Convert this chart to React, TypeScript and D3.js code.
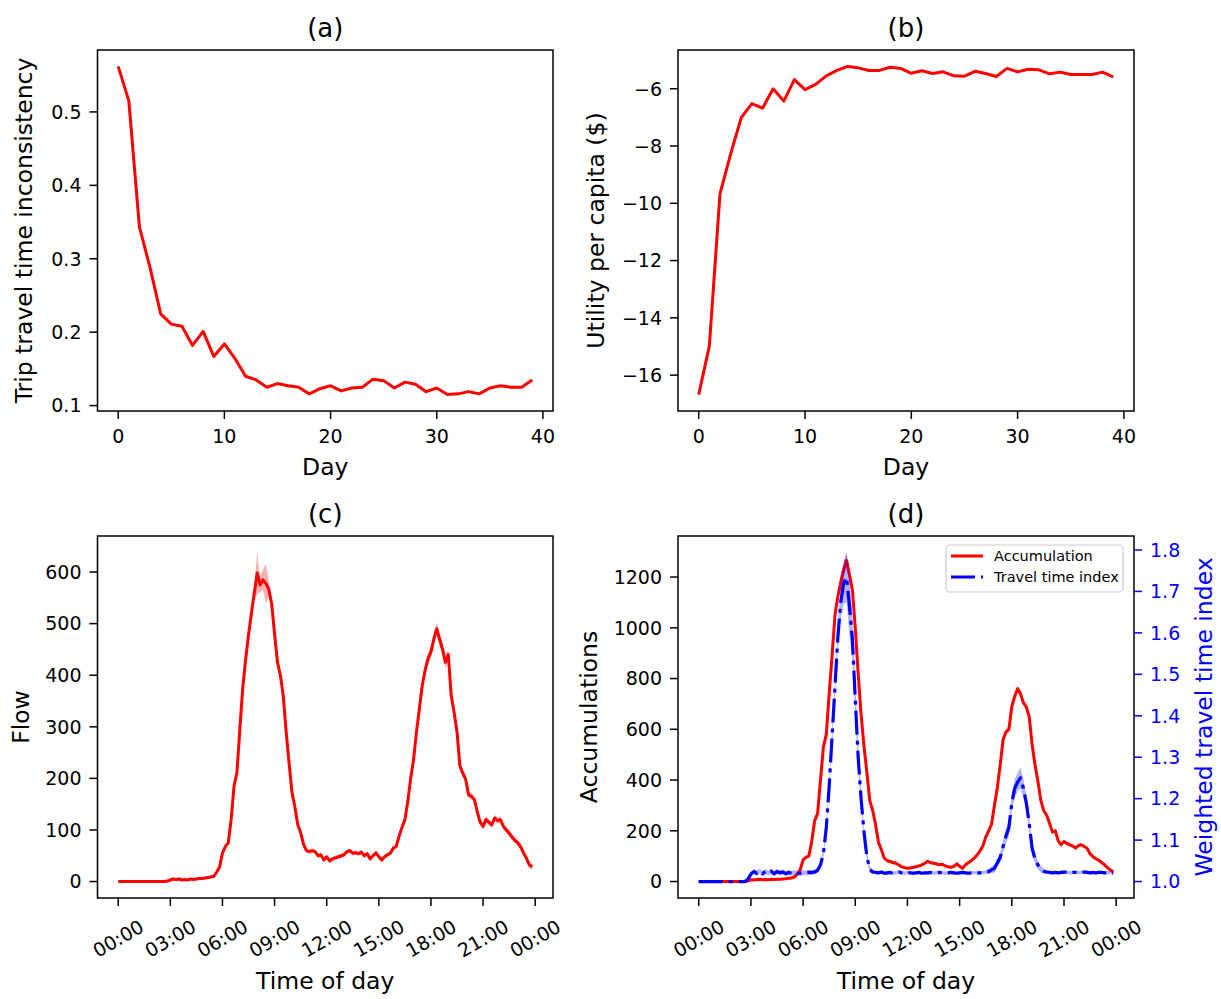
import React from "react";
import * as d3 from "d3";

// ---------------- DATA ----------------
const tripInconsistency = [
  0.562, 0.515, 0.343, 0.288, 0.225, 0.211, 0.208, 0.182, 0.201, 0.167,
  0.184, 0.164, 0.14, 0.135, 0.125, 0.13, 0.127, 0.125, 0.116, 0.123,
  0.127, 0.12, 0.124, 0.125, 0.136, 0.134, 0.124, 0.132, 0.129, 0.119,
  0.124, 0.115, 0.116, 0.119, 0.116, 0.124, 0.127, 0.125, 0.125, 0.135,
];
const utilityPerCapita = [
  -16.68, -14.98, -9.67, -8.28, -7.01, -6.52, -6.68, -6.0, -6.43, -5.68,
  -6.03, -5.85, -5.55, -5.36, -5.22, -5.27, -5.36, -5.36, -5.25, -5.29,
  -5.46, -5.37, -5.47, -5.41, -5.55, -5.56, -5.39, -5.47, -5.57, -5.29,
  -5.41, -5.32, -5.34, -5.48, -5.42, -5.5, -5.5, -5.5, -5.42, -5.59,
];
const dayTicks = [0, 10, 20, 30, 40];
const inconsistencyTicks = [0.1, 0.2, 0.3, 0.4, 0.5];
const utilityTicks = [-16, -14, -12, -10, -8, -6];

// 10-minute samples over one day (one row = one hour)
const STEP_MINUTES = 10;
const flow = [
  0, 0, 0, 0, 0, 0,
  0, 0, 0, 0, 0, 0,
  0, 0, 0, 0, 0, 1,
  3, 5, 4, 5, 3, 4,
  3, 5, 4, 5, 6, 6,
  7, 8, 9, 10, 18, 28,
  55, 68, 75, 120, 185, 211,
  295, 375, 430, 478, 520, 560,
  598, 575, 585, 578, 567, 538,
  480, 425, 400, 360, 290, 230,
  173, 145, 110, 95, 72, 60,
  58, 60, 58, 50, 52, 42,
  48, 40, 44, 46, 48, 50,
  52, 58, 60, 55, 56, 54,
  57, 50, 54, 44, 50, 56,
  48, 42, 48, 52, 55, 65,
  68, 88, 105, 120, 155, 200,
  237, 290, 335, 380, 410, 432,
  445, 470, 490, 470, 450, 425,
  440, 360, 328, 290, 224, 210,
  198, 168, 165, 159, 135, 115,
  107, 120, 115, 110, 123, 118,
  120, 107, 100, 94, 86, 80,
  75, 67, 55, 45, 32, 29,
];
const flowSpread = [
  0, 0, 0, 0, 0, 0,
  0, 0, 0, 0, 0, 0,
  0, 0, 0, 0, 0, 2,
  3, 3, 3, 3, 3, 3,
  3, 3, 3, 3, 3, 3,
  3, 3, 3, 3, 3, 3,
  3, 3, 4, 5, 6, 6,
  6, 8, 8, 10, 12, 15,
  40, 15, 20, 38, 15, 12,
  10, 8, 8, 6, 6, 5,
  4, 4, 4, 4, 4, 4,
  4, 4, 4, 4, 4, 4,
  4, 4, 4, 4, 4, 4,
  4, 4, 4, 4, 4, 4,
  4, 4, 4, 4, 4, 4,
  4, 4, 4, 4, 4, 4,
  5, 5, 6, 6, 8, 8,
  8, 10, 10, 12, 12, 12,
  12, 12, 12, 12, 12, 14,
  10, 8, 8, 8, 8, 8,
  6, 6, 6, 6, 6, 6,
  6, 6, 6, 6, 6, 6,
  6, 6, 6, 6, 6, 6,
  6, 6, 6, 6, 6, 6,
];
const accumulation = [
  0, 0, 0, 0, 0, 0,
  0, 0, 0, 0, 0, 0,
  0, 0, 0, 0, 0, 3,
  7, 6, 8, 9, 7, 8,
  7, 9, 8, 9, 9, 10,
  11, 13, 14, 18, 30, 46,
  86, 95, 100, 160, 240, 268,
  400, 530, 580, 740, 890, 1050,
  1125, 1180, 1230, 1265, 1210, 1150,
  1000, 820, 660, 535, 430, 320,
  280, 225, 155, 125, 92, 82,
  79, 75, 72, 65, 58, 55,
  52, 53, 56, 58, 62, 66,
  72, 80, 74, 72, 70, 66,
  68, 62, 58, 56, 60, 70,
  60, 52, 66, 74, 82, 92,
  105, 120, 140, 175, 200, 225,
  300, 370, 460, 560, 590, 600,
  690, 730, 760, 740, 705, 688,
  650, 540, 460, 395, 320, 280,
  262, 230, 195, 200, 160, 145,
  158, 150, 145, 140, 132, 142,
  145, 138, 130, 110, 98, 90,
  84, 75, 66, 55, 45, 39,
];
const accumulationSpread = [
  0, 0, 0, 0, 0, 0,
  0, 0, 0, 0, 0, 0,
  0, 0, 0, 0, 0, 3,
  5, 5, 5, 5, 5, 5,
  5, 5, 5, 5, 5, 5,
  5, 5, 5, 5, 5, 5,
  5, 6, 6, 8, 10, 10,
  10, 12, 12, 14, 15, 18,
  20, 25, 30, 32, 25, 20,
  15, 12, 12, 10, 10, 8,
  6, 6, 6, 6, 6, 6,
  6, 6, 6, 6, 6, 6,
  6, 6, 6, 6, 6, 6,
  6, 6, 6, 6, 6, 6,
  6, 6, 6, 6, 6, 6,
  6, 6, 6, 6, 6, 6,
  8, 8, 8, 10, 10, 10,
  12, 12, 12, 12, 12, 12,
  14, 14, 14, 14, 12, 12,
  10, 10, 8, 8, 8, 6,
  6, 6, 6, 6, 6, 6,
  6, 6, 6, 6, 6, 6,
  6, 6, 6, 6, 6, 6,
  6, 6, 6, 6, 6, 6,
];
const travelTimeIndex = [
  1, 1, 1, 1, 1, 1,
  1, 1, 1, 1, 1, 1,
  1, 1, 1, 1, 1, 1.006,
  1.018, 1.024, 1.02, 1.025, 1.019, 1.024,
  1.02, 1.025, 1.019, 1.024, 1.021, 1.023,
  1.019, 1.022, 1.02, 1.021, 1.02, 1.02,
  1.021, 1.021, 1.022, 1.022, 1.023, 1.027,
  1.04, 1.068, 1.13, 1.23, 1.35, 1.47,
  1.59, 1.675, 1.72, 1.734, 1.665, 1.585,
  1.44, 1.3, 1.2, 1.12, 1.06, 1.03,
  1.023, 1.022, 1.021, 1.023, 1.02, 1.021,
  1.022, 1.02, 1.021, 1.023, 1.021, 1.02,
  1.022, 1.021, 1.02, 1.021, 1.022, 1.02,
  1.021, 1.021, 1.022, 1.02, 1.021, 1.022,
  1.021, 1.02, 1.021, 1.022, 1.021, 1.02,
  1.021, 1.022, 1.021, 1.02, 1.021, 1.022,
  1.021, 1.021, 1.022, 1.023, 1.024, 1.028,
  1.032, 1.045, 1.058, 1.085, 1.11, 1.13,
  1.19, 1.225, 1.24, 1.25, 1.225, 1.19,
  1.14, 1.08, 1.055, 1.04, 1.03, 1.025,
  1.023, 1.022, 1.021, 1.022, 1.021, 1.022,
  1.023, 1.022, 1.021, 1.022, 1.022, 1.021,
  1.022, 1.023, 1.022, 1.021, 1.022, 1.021,
  1.022, 1.022, 1.021, 1.022, 1.021, 1.021,
];
const travelTimeIndexSpread = [
  0, 0, 0, 0, 0, 0,
  0, 0, 0, 0, 0, 0,
  0, 0, 0, 0, 0, 0.004,
  0.006, 0.006, 0.006, 0.006, 0.006, 0.006,
  0.006, 0.006, 0.006, 0.006, 0.006, 0.006,
  0.006, 0.006, 0.006, 0.006, 0.006, 0.006,
  0.006, 0.006, 0.006, 0.006, 0.006, 0.006,
  0.008, 0.01, 0.012, 0.015, 0.018, 0.02,
  0.03, 0.04, 0.05, 0.06, 0.07, 0.05,
  0.04, 0.03, 0.02, 0.012, 0.01, 0.008,
  0.004, 0.004, 0.004, 0.004, 0.004, 0.004,
  0.004, 0.004, 0.004, 0.004, 0.004, 0.004,
  0.004, 0.004, 0.004, 0.004, 0.004, 0.004,
  0.004, 0.004, 0.004, 0.004, 0.004, 0.004,
  0.004, 0.004, 0.004, 0.004, 0.004, 0.004,
  0.004, 0.004, 0.004, 0.004, 0.004, 0.004,
  0.004, 0.004, 0.004, 0.005, 0.006, 0.008,
  0.01, 0.01, 0.012, 0.015, 0.018, 0.02,
  0.02, 0.022, 0.022, 0.025, 0.022, 0.02,
  0.018, 0.015, 0.012, 0.01, 0.008, 0.006,
  0.004, 0.004, 0.004, 0.004, 0.004, 0.004,
  0.004, 0.004, 0.004, 0.004, 0.004, 0.004,
  0.004, 0.004, 0.004, 0.004, 0.004, 0.004,
  0.004, 0.004, 0.004, 0.004, 0.004, 0.004,
];
const timeTickHours = [0, 3, 6, 9, 12, 15, 18, 21, 24];
const timeTickLabels = ["00:00", "03:00", "06:00", "09:00", "12:00", "15:00", "18:00", "21:00", "00:00"];
const flowTicks = [0, 100, 200, 300, 400, 500, 600];
const accumulationTicks = [0, 200, 400, 600, 800, 1000, 1200];
const ttiTicks = [1.0, 1.1, 1.2, 1.3, 1.4, 1.5, 1.6, 1.7, 1.8];

// ---------------- LAYOUT / STYLE ----------------
const W = 1221;
const H = 999;
const FONT = "'DejaVu Sans', sans-serif";
const TICK_FS = 19;
const LABEL_FS = 23.5;
const TITLE_FS = 26;
const TICK_LEN = 8;
const TICK_PAD = 8;
const RED = "#ff0000";
const BLUE = "#0000ff";

type Rect = { x0: number; x1: number; y0: number; y1: number };
const PA: Rect = { x0: 97.5, x1: 553, y0: 50, y1: 411 };
const PB: Rect = { x0: 678, x1: 1134, y0: 50, y1: 411 };
const PC: Rect = { x0: 97.5, x1: 553, y0: 536, y1: 898 };
const PD: Rect = { x0: 678, x1: 1134, y0: 536, y1: 898 };

function padded(vals: number[]): [number, number] {
  const lo = d3.min(vals) as number;
  const hi = d3.max(vals) as number;
  const r = hi - lo;
  return [lo - 0.05 * r, hi + 0.05 * r];
}

const days = tripInconsistency.map((_, i) => i);
const hours = flow.map((_, i) => (i * STEP_MINUTES) / 60);

function Frame({ r }: { r: Rect }) {
  return (
    <rect x={r.x0} y={r.y0} width={r.x1 - r.x0} height={r.y1 - r.y0} fill="none" stroke="#000" strokeWidth={1.5} />
  );
}

function YAxis({ r, scale, ticks, fmt, side = "left", color = "#000" }: any) {
  const x = side === "left" ? r.x0 : r.x1;
  const dir = side === "left" ? -1 : 1;
  return (
    <g>
      {ticks.map((t: number) => {
        const y = scale(t);
        return (
          <g key={t}>
            <line x1={x} x2={x + dir * TICK_LEN} y1={y} y2={y} stroke={color} strokeWidth={1.5} />
            <text
              x={x + dir * (TICK_LEN + TICK_PAD)}
              y={y}
              dy="0.36em"
              textAnchor={side === "left" ? "end" : "start"}
              fontSize={TICK_FS}
              fill={color}
            >
              {fmt(t)}
            </text>
          </g>
        );
      })}
    </g>
  );
}

function XAxisNumeric({ r, scale, ticks }: any) {
  return (
    <g>
      {ticks.map((t: number) => {
        const x = scale(t);
        return (
          <g key={t}>
            <line x1={x} x2={x} y1={r.y1} y2={r.y1 + TICK_LEN} stroke="#000" strokeWidth={1.5} />
            <text x={x} y={r.y1 + 32} textAnchor="middle" fontSize={TICK_FS}>
              {String(t)}
            </text>
          </g>
        );
      })}
    </g>
  );
}

function XAxisTime({ r, scale }: any) {
  return (
    <g>
      {timeTickHours.map((t, i) => {
        const x = scale(t);
        return (
          <g key={i}>
            <line x1={x} x2={x} y1={r.y1} y2={r.y1 + TICK_LEN} stroke="#000" strokeWidth={1.5} />
            <text
              transform={`translate(${x},${r.y1 + 40.5}) rotate(-30)`}
              dy="0.36em"
              textAnchor="middle"
              fontSize={TICK_FS}
            >
              {timeTickLabels[i]}
            </text>
          </g>
        );
      })}
    </g>
  );
}

function YLabel({ x, r, text, color = "#000" }: any) {
  const cy = (r.y0 + r.y1) / 2;
  return (
    <text transform={`translate(${x},${cy}) rotate(-90)`} textAnchor="middle" fontSize={LABEL_FS} fill={color}>
      {text}
    </text>
  );
}

function XLabel({ r, y, text }: any) {
  return (
    <text x={(r.x0 + r.x1) / 2} y={y} textAnchor="middle" fontSize={LABEL_FS}>
      {text}
    </text>
  );
}

function Title({ r, text }: any) {
  return (
    <text x={(r.x0 + r.x1) / 2} y={r.y0 - 13} textAnchor="middle" fontSize={TITLE_FS}>
      {text}
    </text>
  );
}

export default function App() {
  // Panel (a)
  const xA = d3.scaleLinear().domain(padded(days)).range([PA.x0, PA.x1]);
  const yA = d3.scaleLinear().domain(padded(tripInconsistency)).range([PA.y1, PA.y0]);
  const lineA = d3
    .line<number>()
    .x((_, i) => xA(days[i]))
    .y((d) => yA(d))(tripInconsistency) as string;

  // Panel (b)
  const xB = d3.scaleLinear().domain(padded(days)).range([PB.x0, PB.x1]);
  const yB = d3.scaleLinear().domain(padded(utilityPerCapita)).range([PB.y1, PB.y0]);
  const lineB = d3
    .line<number>()
    .x((_, i) => xB(days[i]))
    .y((d) => yB(d))(utilityPerCapita) as string;

  // Panel (c)
  const xC = d3.scaleLinear().domain(padded(hours)).range([PC.x0, PC.x1]);
  const flowLo = flow.map((v, i) => Math.max(0, v - flowSpread[i]));
  const flowHi = flow.map((v, i) => v + flowSpread[i]);
  const yC = d3.scaleLinear().domain(padded([...flowLo, ...flowHi])).range([PC.y1, PC.y0]);
  const areaC = d3
    .area<number>()
    .x((_, i) => xC(hours[i]))
    .y0((_, i) => yC(flowLo[i]))
    .y1((_, i) => yC(flowHi[i]))(flow) as string;
  const lineC = d3
    .line<number>()
    .x((_, i) => xC(hours[i]))
    .y((d) => yC(d))(flow) as string;

  // Panel (d)
  const xD = d3.scaleLinear().domain(padded(hours)).range([PD.x0, PD.x1]);
  const accLo = accumulation.map((v, i) => Math.max(0, v - accumulationSpread[i]));
  const accHi = accumulation.map((v, i) => v + accumulationSpread[i]);
  const yD = d3.scaleLinear().domain(padded([...accLo, ...accHi])).range([PD.y1, PD.y0]);
  const ttiLo = travelTimeIndex.map((v, i) => Math.max(1, v - travelTimeIndexSpread[i]));
  const ttiHi = travelTimeIndex.map((v, i) => v + travelTimeIndexSpread[i]);
  const yD2 = d3.scaleLinear().domain(padded([...ttiLo, ...ttiHi])).range([PD.y1, PD.y0]);
  const areaAcc = d3
    .area<number>()
    .x((_, i) => xD(hours[i]))
    .y0((_, i) => yD(accLo[i]))
    .y1((_, i) => yD(accHi[i]))(accumulation) as string;
  const lineAcc = d3
    .line<number>()
    .x((_, i) => xD(hours[i]))
    .y((d) => yD(d))(accumulation) as string;
  const areaTti = d3
    .area<number>()
    .x((_, i) => xD(hours[i]))
    .y0((_, i) => yD2(ttiLo[i]))
    .y1((_, i) => yD2(ttiHi[i]))(travelTimeIndex) as string;
  const lineTti = d3
    .line<number>()
    .x((_, i) => xD(hours[i]))
    .y((d) => yD2(d))(travelTimeIndex) as string;

  const f1 = d3.format(".1f");
  const f0 = d3.format("d");

  const LINE_W = 3;
  const DASH = "24,6,4,6";

  return (
    <svg
      width={W}
      height={H}
      viewBox={`0 0 ${W} ${H}`}
      style={{ position: "absolute", left: 0, top: 0, background: "#fff" }}
      fontFamily={FONT}
    >
      <rect x={0} y={0} width={W} height={H} fill="#fff" />

      {/* (a) */}
      <path d={lineA} fill="none" stroke={RED} strokeWidth={LINE_W} strokeLinejoin="round" />
      <Frame r={PA} />
      <YAxis r={PA} scale={yA} ticks={inconsistencyTicks} fmt={f1} />
      <XAxisNumeric r={PA} scale={xA} ticks={dayTicks} />
      <YLabel x={32.4} r={PA} text="Trip travel time inconsistency" />
      <XLabel r={PA} y={475} text="Day" />
      <Title r={PA} text="(a)" />

      {/* (b) */}
      <path d={lineB} fill="none" stroke={RED} strokeWidth={LINE_W} strokeLinejoin="round" />
      <Frame r={PB} />
      <YAxis r={PB} scale={yB} ticks={utilityTicks} fmt={f0} />
      <XAxisNumeric r={PB} scale={xB} ticks={dayTicks} />
      <YLabel x={604} r={PB} text="Utility per capita ($)" />
      <XLabel r={PB} y={475} text="Day" />
      <Title r={PB} text="(b)" />

      {/* (c) */}
      <path d={areaC} fill={RED} fillOpacity={0.3} stroke="none" />
      <path d={lineC} fill="none" stroke={RED} strokeWidth={LINE_W} strokeLinejoin="round" />
      <Frame r={PC} />
      <YAxis r={PC} scale={yC} ticks={flowTicks} fmt={f0} />
      <XAxisTime r={PC} scale={xC} />
      <YLabel x={28.5} r={PC} text="Flow" />
      <XLabel r={PC} y={989} text="Time of day" />
      <Title r={PC} text="(c)" />

      {/* (d) */}
      <path d={areaAcc} fill={RED} fillOpacity={0.3} stroke="none" />
      <path d={lineAcc} fill="none" stroke={RED} strokeWidth={LINE_W} strokeLinejoin="round" />
      <path d={areaTti} fill={BLUE} fillOpacity={0.3} stroke="none" />
      <path d={lineTti} fill="none" stroke={BLUE} strokeWidth={3.2} strokeDasharray={DASH} strokeLinejoin="round" />
      <Frame r={PD} />
      <YAxis r={PD} scale={yD} ticks={accumulationTicks} fmt={f0} />
      <YAxis r={PD} scale={yD2} ticks={ttiTicks} fmt={f1} side="right" color={BLUE} />
      <XAxisTime r={PD} scale={xD} />
      <YLabel x={597} r={PD} text="Accumulations" />
      <YLabel x={1212} r={PD} text="Weighted travel time index" color={BLUE} />
      <XLabel r={PD} y={989} text="Time of day" />
      <Title r={PD} text="(d)" />

      {/* legend */}
      <g>
        <rect x={946} y={545} width={177} height={47} rx={4} fill="#fff" fillOpacity={0.8} stroke="#cccccc" strokeWidth={1.2} />
        <line x1={951} x2={983} y1={556} y2={556} stroke={RED} strokeWidth={3} />
        <text x={994} y={556} dy="0.36em" fontSize={14.5}>Accumulation</text>
        <line x1={951} x2={983} y1={577} y2={577} stroke={BLUE} strokeWidth={3} strokeDasharray={DASH} />
        <text x={994} y={577} dy="0.36em" fontSize={14.5}>Travel time index</text>
      </g>
    </svg>
  );
}
